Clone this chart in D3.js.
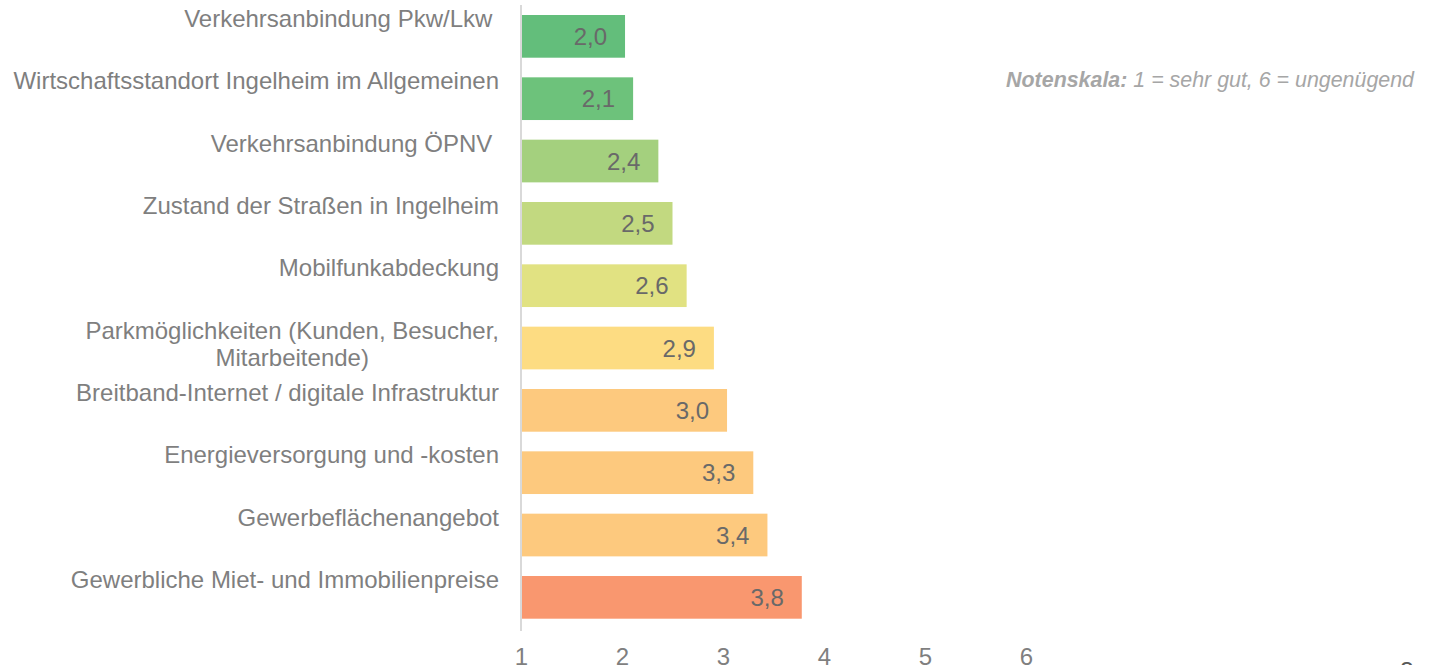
<!DOCTYPE html>
<html>
<head>
<meta charset="utf-8">
<script src="https://cdn.jsdelivr.net/npm/d3@7"></script>
<style>
  html, body { margin: 0; padding: 0; background: #fff; overflow: hidden; }
  svg { display: block; font-family: "Liberation Sans", Arial, sans-serif; }
  .cat { white-space: pre; }
</style>
</head>
<body>
<div id="chart"></div>
<script>
// Einschätzung der Standortfaktoren (Schulnoten)
const categories = [
  ["Verkehrsanbindung Pkw/Lkw "],
  ["Wirtschaftsstandort Ingelheim im Allgemeinen"],
  ["Verkehrsanbindung ÖPNV "],
  ["Zustand der Straßen in Ingelheim"],
  ["Mobilfunkabdeckung"],
  ["Parkmöglichkeiten (Kunden, Besucher,", "Mitarbeitende)"],
  ["Breitband-Internet / digitale Infrastruktur"],
  ["Energieversorgung und -kosten"],
  ["Gewerbeflächenangebot"],
  ["Gewerbliche Miet- und Immobilienpreise"]
];
const grades = [2.03, 2.11, 2.36, 2.50, 2.64, 2.91, 3.04, 3.30, 3.44, 3.78];
const barColors = ["#63be7b", "#6dc27b", "#a4d07e", "#c2d980", "#e1e282",
                   "#fddc82", "#fdc97e", "#fdc97e", "#fdc97e", "#f9976f"];
const tickValues = [1, 2, 3, 4, 5, 6];
const noteBold = "Notenskala:";
const noteText = " 1 = sehr gut, 6 = ungenügend";
const pageNumber = "3";

const width = 1435, height = 665;

const svg = d3.select("#chart").append("svg")
  .attr("width", width)
  .attr("height", height);

const x = d3.scaleLinear().domain([1, 6]).range([521, 1026]);
const y = d3.scaleBand()
  .domain(d3.range(categories.length))
  .range([15, 618.7])
  .paddingInner(0.315)
  .paddingOuter(0);

const fmt = d3.format(".1f");
const labelRight = 499;

// bars
svg.append("g").selectAll("rect")
  .data(grades)
  .join("rect")
    .attr("x", x(1) + 1)
    .attr("y", (d, i) => y(i))
    .attr("width", d => x(d) - x(1) - 1)
    .attr("height", y.bandwidth())
    .attr("fill", (d, i) => barColors[i]);

// vertical axis line
svg.append("line")
  .attr("x1", x(1)).attr("x2", x(1))
  .attr("y1", 5).attr("y2", 631)
  .attr("stroke", "#d9d9d9")
  .attr("stroke-width", 2);

// value labels
svg.append("g").selectAll("text")
  .data(grades)
  .join("text")
    .attr("x", d => x(d) - 18)
    .attr("y", (d, i) => y(i) + 30)
    .attr("text-anchor", "end")
    .attr("font-size", 24)
    .attr("fill", "#696969")
    .text(d => fmt(d).replace(".", ","));

// category labels (multi-line labels are centred as a block, block right-aligned)
const cat = svg.append("g").selectAll("text")
  .data(categories)
  .join("text")
    .attr("class", "cat")
    .attr("x", labelRight)
    .attr("y", (d, i) => y(i) + 12)
    .attr("text-anchor", "end")
    .attr("font-size", 24)
    .attr("fill", "#7f7f7f");

cat.selectAll("tspan")
  .data(d => d)
  .join("tspan")
    .attr("x", labelRight)
    .attr("dy", (d, i) => i === 0 ? 0 : 27)
    .text(d => d);

cat.filter(d => d.length > 1).each(function() {
  const spans = d3.select(this).selectAll("tspan");
  const w = d3.max(spans.nodes(), n => n.getComputedTextLength());
  d3.select(this).attr("text-anchor", "middle");
  spans.attr("x", labelRight - w / 2);
});

// x axis tick labels
const xAxis = svg.append("g")
  .attr("transform", "translate(0,640)")
  .call(d3.axisBottom(x).tickValues(tickValues).tickSize(0).tickPadding(8).tickFormat(d3.format("d")));
xAxis.select(".domain").remove();
xAxis.selectAll("text")
  .attr("font-family", "Liberation Sans, Arial, sans-serif")
  .attr("font-size", 24)
  .attr("fill", "#7f7f7f");

// note
const note = svg.append("text")
  .attr("x", 1414)
  .attr("y", 87)
  .attr("text-anchor", "end")
  .attr("font-size", 21.4)
  .attr("font-style", "italic")
  .attr("fill", "#a6a6a6")
  .style("white-space", "pre");
note.append("tspan").attr("font-weight", "bold").text(noteBold);
note.append("tspan").text(noteText);

// page number (cut off at the bottom edge)
svg.append("text")
  .attr("x", 1407)
  .attr("y", 679)
  .attr("text-anchor", "middle")
  .attr("font-size", 24)
  .attr("fill", "#595959")
  .text(pageNumber);
</script>
</body>
</html>
